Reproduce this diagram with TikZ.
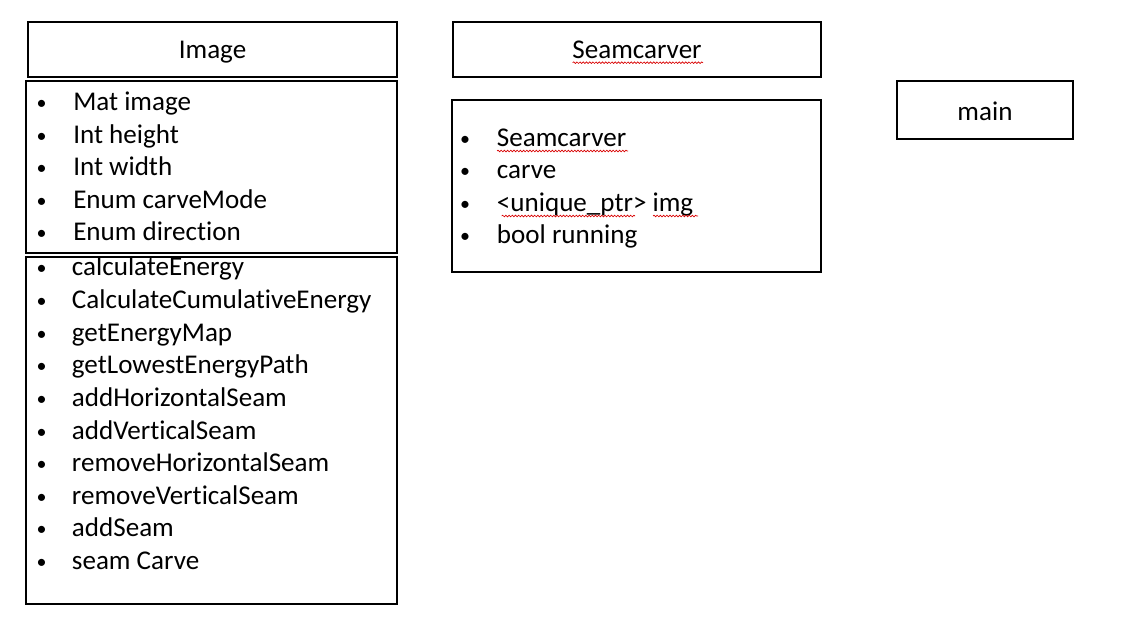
\documentclass[tikz,border=0pt]{standalone}
\usepackage{fontspec}
\setmainfont{Carlito}[Ligatures=NoCommon]
\usetikzlibrary{decorations.pathmorphing}
\begin{document}
\begin{tikzpicture}[x=0.75pt,y=-0.75pt,
  box/.style={draw, line width=1.5pt, rectangle, inner sep=0pt},
  item/.style={anchor=base west, inner sep=0pt, font=\fontsize{20.3}{24}\selectfont},
  head/.style={anchor=base, inner sep=0pt, font=\fontsize{20.3}{24}\selectfont},
  bul/.style={anchor=base, inner sep=0pt, font=\fontsize{15}{18}\selectfont},
  squig/.style={red!85!black, line width=0.5pt, decorate, decoration={snake, amplitude=0.6pt, segment length=2.4pt}}]
\useasboundingbox[fill=white] (0,0) rectangle (1129,624);
% boxes
\node[box, minimum width={(397-28)*0.75pt}, minimum height={(77-22)*0.75pt}] (imghead) at ({(28+397)/2},{(22+77)/2}) {};
\node[box, minimum width={(397-26)*0.75pt}, minimum height={(253-81)*0.75pt}] (imgattr) at ({(26+397)/2},{(81+253)/2}) {};
\node[box, minimum width={(397-26)*0.75pt}, minimum height={(604-257)*0.75pt}] (imgmeth) at ({(26+397)/2},{(257+604)/2}) {};
\node[box, minimum width={(821-453)*0.75pt}, minimum height={(77-22)*0.75pt}] (schead) at ({(453+821)/2},{(22+77)/2}) {};
\node[box, minimum width={(821-452)*0.75pt}, minimum height={(272-100)*0.75pt}] (scbody) at ({(452+821)/2},{(100+272)/2}) {};
\node[box, minimum width={(1073-897)*0.75pt}, minimum height={(139-81)*0.75pt}] (mainbox) at ({(897+1073)/2},{(81+139)/2}) {};
% headers
\node[head] (imgtitle) at (212.5,58.3) {Image};
\node[head] (sctitle) at (637,58.3) {Seamcarver};
\node[head] (maintitle) at (985,120.7) {main};
% attributes
\foreach \t [count=\i] in {Mat image, Int height, Int width, Enum carveMode, Enum direction} {
  \node[bul] (ab\i) at (41.7,{110+(\i-1)*32.4}) {\textbullet};
  \node[item] (at\i) at (73,{111+(\i-1)*32.4}) {\t};
}
% methods
\foreach \t [count=\i] in {calculateEnergy, CalculateCumulativeEnergy, getEnergyMap, getLowestEnergyPath, addHorizontalSeam, addVerticalSeam, removeHorizontalSeam, removeVerticalSeam, addSeam, seam Carve} {
  \node[bul] (mb\i) at (41.7,{275+(\i-1)*32.6}) {\textbullet};
  \node[item] (mt\i) at (71.7,{276+(\i-1)*32.6}) {\t};
}
% seamcarver body
\foreach \t [count=\i] in {Seamcarver, carve, {<unique\_ptr> img}, bool running} {
  \node[bul] (sb\i) at (465,{145.7+(\i-1)*32.2}) {\textbullet};
  \node[item] (st\i) at (496.7,{146.7+(\i-1)*32.2}) {\t};
}
% spell-check squiggles
\coordinate (q1a) at (572.7,62.7); \coordinate (q1b) at (703,62.7);
\coordinate (q2a) at (497,151); \coordinate (q2b) at (628,151);
\coordinate (q3a) at (501.7,216); \coordinate (q3b) at (635,216);
\coordinate (q4a) at (653,216); \coordinate (q4b) at (698,216);
\draw[squig] (q1a) -- (q1b);
\draw[squig] (q2a) -- (q2b);
\draw[squig] (q3a) -- (q3b);
\draw[squig] (q4a) -- (q4b);
\end{tikzpicture}
\end{document}
